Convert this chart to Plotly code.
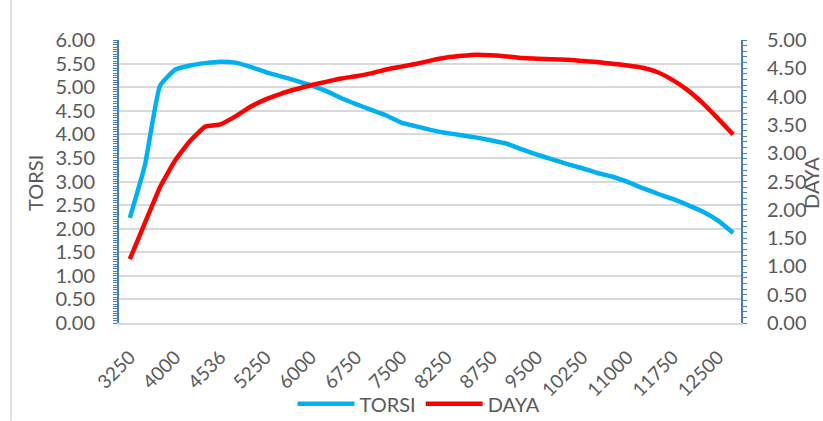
import plotly.graph_objects as go

# Engine speed (rpm) categories
rpm = [3250, 3500, 3750, 4000, 4250, 4500, 4536, 4750, 5000, 5250,
       5500, 5750, 6000, 6250, 6500, 6750, 7000, 7250, 7500, 7750,
       8000, 8250, 8500, 8600, 8750, 9000, 9250, 9500, 9750, 10000,
       10250, 10500, 10750, 11000, 11250, 11500, 11750, 12000, 12250, 12500,
       12750]

# Torque (left axis)
torsi = [2.23, 3.35, 5.03, 5.37, 5.46, 5.51, 5.54, 5.52, 5.43, 5.32,
         5.23, 5.14, 5.04, 4.92, 4.77, 4.64, 4.52, 4.40, 4.25, 4.17,
         4.09, 4.03, 3.98, 3.93, 3.87, 3.80, 3.68, 3.57, 3.47, 3.37,
         3.28, 3.18, 3.10, 2.99, 2.86, 2.74, 2.63, 2.50, 2.36, 2.17,
         1.91]

# Power (right axis)
daya = [1.13, 1.77, 2.40, 2.87, 3.22, 3.47, 3.51, 3.65, 3.82, 3.95,
        4.05, 4.13, 4.20, 4.26, 4.32, 4.36, 4.41, 4.48, 4.53, 4.58,
        4.64, 4.69, 4.72, 4.74, 4.73, 4.71, 4.68, 4.67, 4.66, 4.65,
        4.63, 4.61, 4.58, 4.55, 4.51, 4.43, 4.29, 4.11, 3.88, 3.61,
        3.33]

cats = [str(v) for v in rpm]
tick_cats = cats[::3]

FONT = "Lato"
TXT = "#595959"
GRID = "#d9d9d9"
AXBLUE = "#4a7ebb"
W, H = 823, 421
L, R, T, B = 119, 741, 40, 323.2


def px_x(x):
    return (x - L) / (R - L)


def px_y(y):
    return (B - y) / (B - T)


fig = go.Figure()
fig.add_trace(go.Scatter(
    x=cats, y=torsi, name="TORSI", mode="lines",
    line=dict(color="#00b0f0", width=4.5, shape="spline", smoothing=0.4),
    yaxis="y"))
fig.add_trace(go.Scatter(
    x=cats, y=daya, name="DAYA", mode="lines",
    line=dict(color="#ff0000", width=4.5, shape="spline", smoothing=0.4),
    yaxis="y2"))

fig.update_layout(
    width=W, height=H,
    margin=dict(l=L, r=W - R, t=T, b=H - B, pad=0, autoexpand=False),
    paper_bgcolor="white", plot_bgcolor="white",
    font=dict(family=FONT, size=20, color=TXT),
    showlegend=True,
    legend=dict(orientation="h", x=px_x(419), xanchor="center",
                y=px_y(404), yanchor="middle",
                font=dict(family=FONT, size=20, color=TXT),
                itemwidth=57, tracegroupgap=0, bgcolor="rgba(0,0,0,0)"),
    xaxis=dict(
        type="category", range=[-0.72, 40.52], automargin=False,
        tickmode="array", tickvals=tick_cats, ticktext=tick_cats,
        tickangle=-45, ticks="", showgrid=False, zeroline=False,
        showline=True, linecolor=GRID, linewidth=1.5,
        tickfont=dict(family=FONT, size=19, color=TXT),
        ticklabelstandoff=14,
    ),
    yaxis=dict(
        range=[0, 6], dtick=0.5, tickformat=".2f", automargin=False,
        showgrid=True, gridcolor=GRID, gridwidth=1.5, zeroline=False,
        showline=True, linecolor=AXBLUE, linewidth=2,
        ticks="outside", ticklen=4, tickwidth=1, tickcolor=AXBLUE,
        minor=dict(dtick=0.05, ticks="outside", ticklen=4, tickcolor=AXBLUE,
                   showgrid=False),
        tickfont=dict(family=FONT, size=20, color=TXT),
        ticklabelstandoff=14,
    ),
    yaxis2=dict(
        range=[0, 5], dtick=0.5, tickformat=".2f", automargin=False,
        overlaying="y", side="right",
        showgrid=False, zeroline=False,
        showline=True, linecolor=AXBLUE, linewidth=2,
        ticks="outside", ticklen=4, tickwidth=1, tickcolor=AXBLUE,
        minor=dict(dtick=0.1, ticks="outside", ticklen=4, tickcolor=AXBLUE),
        tickfont=dict(family=FONT, size=20, color=TXT),
        ticklabelstandoff=16,
    ),
    annotations=[
        dict(text="TORSI", x=px_x(35), y=px_y(183), xref="paper", yref="paper",
             textangle=-90, showarrow=False, xanchor="center", yanchor="middle",
             font=dict(family=FONT, size=20, color=TXT)),
        dict(text="DAYA", x=px_x(811), y=px_y(183), xref="paper", yref="paper",
             textangle=-90, showarrow=False, xanchor="center", yanchor="middle",
             font=dict(family=FONT, size=20, color=TXT)),
    ],
    shapes=[
        dict(type="line", xref="paper", yref="paper",
             x0=px_x(11), x1=px_x(11), y0=px_y(0), y1=px_y(421),
             line=dict(color=GRID, width=1.5)),
    ],
)

fig.write_html("out.html")
